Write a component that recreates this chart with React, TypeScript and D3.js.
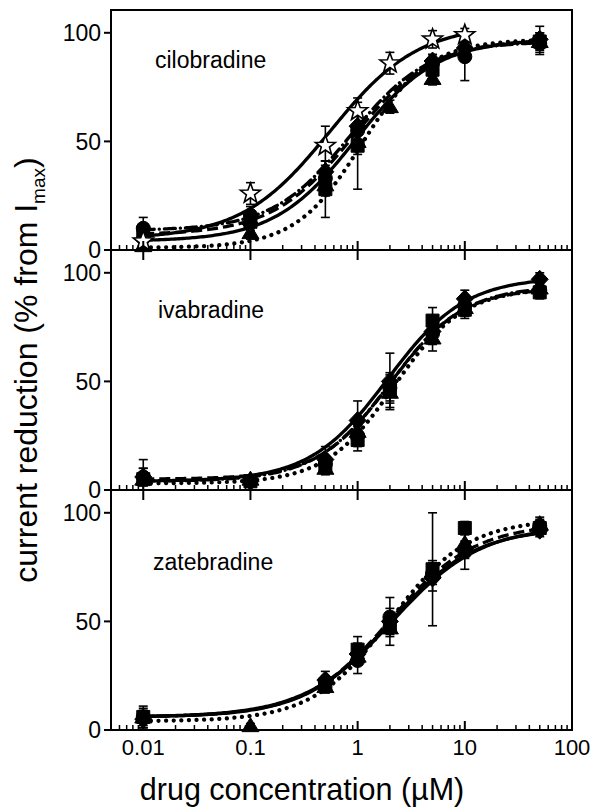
import React from 'react';
import * as d3 from 'd3';

// ---------- data ----------
const conc = [0.01, 0.1, 0.5, 1, 2, 5, 10, 50];
const panelNames = ['cilobradine', 'ivabradine', 'zatebradine'];
const xTickValues = [0.01, 0.1, 1, 10, 100];
const xTickLabels = ['0.01', '0.1', '1', '10', '100'];
const yTickValues = [0, 50, 100];
const yTickLabels = ['0', '50', '100'];

// cilobradine: star, circle, square, triangle, diamond
const ciloStar = [4, 26, 48, 64, 86, 97, 99, null];
const ciloStarErr = [3, 5, 9, 6, 5, 4, 3, null];
const ciloCircle = [10, 16, 33, 55, null, 86, 89, 95];
const ciloCircleErr = [5, 4, 8, 8, null, 4, 11, 5];
const ciloSquare = [8, 13, 28, 48, null, 83, null, 96];
const ciloSquareErr = [3, 3, 13, 20, null, 3, null, 4];
const ciloTriangle = [2, 8, 30, 50, 66, 79, null, 96];
const ciloTriangleErr = [2, 3, 5, 6, 3, 3, null, 3];
const ciloDiamond = [5, 12, 36, 57, null, 87, 93, 97];
const ciloDiamondErr = [3, 3, 5, 6, null, 3, 3, 6];

// ivabradine: circle, square, triangle, diamond
const ivaCircle = [6, 4, 12, 25, 47, 72, 85, 92];
const ivaCircleErr = [4, 2, 3, 5, 6, 5, 4, 3];
const ivaSquare = [5, 4, 11, 23, 46, 78, 83, 91];
const ivaSquareErr = [9, 2, 3, 5, 8, 6, 4, 3];
const ivaTriangle = [5, 5, 10, 27, 45, 70, 84, 93];
const ivaTriangleErr = [3, 2, 3, 4, 5, 6, 4, 3];
const ivaDiamond = [6, 4, 14, 32, 50, 73, 88, 97];
const ivaDiamondErr = [4, 2, 6, 9, 13, 5, 4, 3];

// zatebradine: circle, square, triangle, diamond
const zateCircle = [6, null, 22, 32, 52, 72, 82, 94];
const zateCircleErr = [4, null, 3, 6, 4, 5, 8, 3];
const zateSquare = [6, null, 21, 37, 48, 74, 93, 93];
const zateSquareErr = [5, null, 3, 6, 4, 26, 3, 3];
const zateTriangle = [6, 2, 20, 34, 47, 73, 86, 95];
const zateTriangleErr = [3, 1, 3, 4, 4, 5, 4, 3];
const zateDiamond = [5, null, 23, 35, 50, 70, 83, 92];
const zateDiamondErr = [4, null, 4, 5, 11, 6, 4, 3];

// Hill fit parameters: [bottom, top, EC50, hill, maxConc]
const ciloFits = [
  [5, 104, 0.55, 1.05, 10],
  [4, 97, 0.95, 1.15, 50],
  [9, 96, 0.85, 1.2, 50],
  [7, 97, 0.9, 1.15, 50],
  [1, 97, 1.1, 1.4, 50],
];
const ivaFits = [
  [4, 98, 1.9, 1.2, 50],
  [5, 93, 2.0, 1.3, 50],
  [4, 94, 2.0, 1.25, 50],
  [3, 93, 2.2, 1.35, 50],
];
const zateFits = [
  [6, 93, 2.0, 1.1, 50],
  [6, 94, 2.1, 1.05, 50],
  [6, 95, 2.0, 1.1, 50],
  [4, 97, 2.0, 1.2, 50],
];

const panelSeries = [
  [
    [ciloStar, ciloStarErr],
    [ciloCircle, ciloCircleErr],
    [ciloSquare, ciloSquareErr],
    [ciloTriangle, ciloTriangleErr],
    [ciloDiamond, ciloDiamondErr],
  ],
  [
    [ivaCircle, ivaCircleErr],
    [ivaSquare, ivaSquareErr],
    [ivaTriangle, ivaTriangleErr],
    [ivaDiamond, ivaDiamondErr],
  ],
  [
    [zateCircle, zateCircleErr],
    [zateSquare, zateSquareErr],
    [zateTriangle, zateTriangleErr],
    [zateDiamond, zateDiamondErr],
  ],
];
const panelFits = [ciloFits, ivaFits, zateFits];

// ---------- styles ----------
const panelShapes = [
  ['star', 'circle', 'square', 'triangle', 'diamond'],
  ['circle', 'square', 'triangle', 'diamond'],
  ['circle', 'square', 'triangle', 'diamond'],
];
const panelFitStyles = [
  ['solid', 'solid', 'dashdot', 'dashed', 'dotted'],
  ['solid', 'dashed', 'dashdot', 'dotted'],
  ['solid', 'solid', 'dashed', 'dotted'],
];

const FONT = '"Liberation Sans", Arial, Helvetica, sans-serif';
const W = 598;
const H = 811;
const L = 111;
const R = 572;
const panelTops = [10, 250, 490];
const PH = 240;

function markerPath(shape: string): string {
  switch (shape) {
    case 'circle':
      return d3.symbol(d3.symbolCircle, Math.PI * 7 * 7)() as string;
    case 'square':
      return 'M-6.5,-6.5L6.5,-6.5L6.5,6.5L-6.5,6.5Z';
    case 'triangle':
      return 'M0,-8L8.5,6L-8.5,6Z';
    case 'diamond':
      return 'M0,-9L8.5,0L0,9L-8.5,0Z';
    case 'star': {
      const pts: string[] = [];
      for (let i = 0; i < 10; i++) {
        const r = i % 2 === 0 ? 10.5 : 4.3;
        const a = -Math.PI / 2 + (i * Math.PI) / 5;
        pts.push(`${(r * Math.cos(a)).toFixed(2)},${(r * Math.sin(a)).toFixed(2)}`);
      }
      return 'M' + pts.join('L') + 'Z';
    }
  }
  return '';
}

function lineStyle(style: string) {
  switch (style) {
    case 'dashed':
      return { strokeWidth: 3.3, strokeDasharray: '11,5', strokeLinecap: 'butt' as const };
    case 'dotted':
      return { strokeWidth: 4.2, strokeDasharray: '0.1,7.5', strokeLinecap: 'round' as const };
    case 'dashdot':
      return { strokeWidth: 3.3, strokeDasharray: '11,5,0.1,5', strokeLinecap: 'round' as const };
    default:
      return { strokeWidth: 3.3, strokeDasharray: undefined, strokeLinecap: 'butt' as const };
  }
}

export default function App() {
  const x = d3.scaleLog().domain([0.005, 100]).range([L, R]);

  const minorTicks: number[] = [];
  for (let e = -3; e <= 1; e++) {
    for (let k = 2; k <= 9; k++) {
      const v = k * Math.pow(10, e);
      if (v >= 0.005 && v < 100) minorTicks.push(v);
    }
  }

  return (
    <svg width={W} height={H} style={{ display: 'block', background: '#fff', position: 'absolute', left: 0, top: 0 }} fontFamily={FONT}>
      <rect x={0} y={0} width={W} height={H} fill="#fff" />
      {panelTops.map((top, pi) => {
        const y = d3.scaleLinear().domain([0, 110.5]).range([top + PH, top]);
        const bottom = top + PH;
        const fits = panelFits[pi];
        const series = panelSeries[pi];
        return (
          <g key={pi}>
            {fits.map((f, fi) => {
              const [b, t, ec, n, maxC] = f as number[];
              const xs = d3.range(0, 201).map((i) => Math.pow(10, -2 + (i / 200) * (Math.log10(maxC) + 2)));
              const line = d3
                .line<number>()
                .x((c) => x(c))
                .y((c) => y(b + (t - b) / (1 + Math.pow(ec / c, n))));
              const st = lineStyle(panelFitStyles[pi][fi]);
              return (
                <path
                  key={'f' + fi}
                  d={line(xs) as string}
                  fill="none"
                  stroke="#000"
                  strokeWidth={st.strokeWidth}
                  strokeDasharray={st.strokeDasharray}
                  strokeLinecap={st.strokeLinecap}
                />
              );
            })}
            {series.map(([vals, errs], si) =>
              (vals as (number | null)[]).map((v, ci) => {
                const e = (errs as (number | null)[])[ci];
                if (v == null || e == null) return null;
                const cx = x(conc[ci]);
                const y1 = y(v + e);
                const y2 = y(Math.max(0, v - e));
                return (
                  <g key={'e' + si + '-' + ci} stroke="#000" strokeWidth={1.6}>
                    <line x1={cx} x2={cx} y1={y1} y2={y2} />
                    <line x1={cx - 4.5} x2={cx + 4.5} y1={y1} y2={y1} />
                    <line x1={cx - 4.5} x2={cx + 4.5} y1={y2} y2={y2} />
                  </g>
                );
              })
            )}
            {series
              .map((s, si) => ({ s, si }))
              .sort((a, b) => (panelShapes[pi][a.si] === 'star' ? 1 : 0) - (panelShapes[pi][b.si] === 'star' ? 1 : 0))
              .map(({ s, si }) => {
                const shape = panelShapes[pi][si];
                const d = markerPath(shape);
                return (s[0] as (number | null)[]).map((v, ci) => {
                  if (v == null) return null;
                  return (
                    <path
                      key={'m' + si + '-' + ci}
                      d={d}
                      transform={`translate(${x(conc[ci])},${y(v)})`}
                      fill={shape === 'star' ? '#fff' : '#000'}
                      stroke="#000"
                      strokeWidth={shape === 'star' ? 1.6 : 1}
                    />
                  );
                });
              })}
            <rect x={L} y={top} width={R - L} height={PH} fill="none" stroke="#000" strokeWidth={2} />
            {xTickValues.map((v, i) => (
              <line key={'bt' + i} x1={x(v)} x2={x(v)} y1={bottom} y2={bottom - 9} stroke="#000" strokeWidth={2} />
            ))}
            {minorTicks.map((v, i) => (
              <line key={'mt' + i} x1={x(v)} x2={x(v)} y1={bottom} y2={bottom - 5} stroke="#000" strokeWidth={1.5} />
            ))}
            {pi > 0 &&
              xTickValues.map((v, i) => (
                <line key={'tt' + i} x1={x(v)} x2={x(v)} y1={top} y2={top + 10} stroke="#000" strokeWidth={2} />
              ))}
            {yTickValues.map((v, i) => (
              <g key={'yt' + i}>
                <line x1={L} x2={L - 7} y1={y(v)} y2={y(v)} stroke="#000" strokeWidth={2} />
                <text x={101} y={y(v)} dy="0.36em" textAnchor="end" fontSize={23} fill="#000">
                  {yTickLabels[i]}
                </text>
              </g>
            ))}
            <text x={[155, 158, 153][pi]} y={top + [58, 68, 80][pi]} fontSize={23} fill="#000">
              {panelNames[pi]}
            </text>
          </g>
        );
      })}
      {xTickValues.map((v, i) => (
        <text key={'xl' + i} x={x(v)} y={755} textAnchor="middle" fontSize={22} fill="#000">
          {xTickLabels[i]}
        </text>
      ))}
      <text x={302} y={800} textAnchor="middle" fontSize={30.5} fill="#000">
        drug concentration (µM)
      </text>
      <text transform="translate(37,370) rotate(-90)" textAnchor="middle" fontSize={32} fill="#000">
        current reduction (% from I
        <tspan fontSize={19} dy={8}>max</tspan>
        <tspan dy={-8}>)</tspan>
      </text>
    </svg>
  );
}
